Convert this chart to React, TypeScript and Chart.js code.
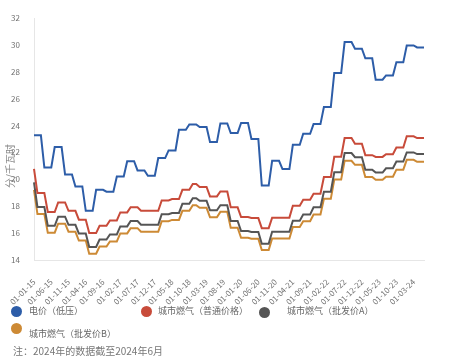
import React, { useEffect, useRef } from "react";
import { Chart, registerables } from "chart.js";

Chart.register(...registerables);

const MONTHS: string[] = [
  "01-01-15","01-02-15","01-03-15","01-04-15","01-05-15","01-06-15","01-07-15","01-08-15","01-09-15","01-10-15","01-11-15","01-12-15",
  "01-01-16","01-02-16","01-03-16","01-04-16","01-05-16","01-06-16","01-07-16","01-08-16","01-09-16","01-10-16","01-11-16","01-12-16",
  "01-01-17","01-02-17","01-03-17","01-04-17","01-05-17","01-06-17","01-07-17","01-08-17","01-09-17","01-10-17","01-11-17","01-12-17",
  "01-01-18","01-02-18","01-03-18","01-04-18","01-05-18","01-06-18","01-07-18","01-08-18","01-09-18","01-10-18","01-11-18","01-12-18",
  "01-01-19","01-02-19","01-03-19","01-04-19","01-05-19","01-06-19","01-07-19","01-08-19","01-09-19","01-10-19","01-11-19","01-12-19",
  "01-01-20","01-02-20","01-03-20","01-04-20","01-05-20","01-06-20","01-07-20","01-08-20","01-09-20","01-10-20","01-11-20","01-12-20",
  "01-01-21","01-02-21","01-03-21","01-04-21","01-05-21","01-06-21","01-07-21","01-08-21","01-09-21","01-10-21","01-11-21","01-12-21",
  "01-01-22","01-02-22","01-03-22","01-04-22","01-05-22","01-06-22","01-07-22","01-08-22","01-09-22","01-10-22","01-11-22","01-12-22",
  "01-01-23","01-02-23","01-03-23","01-04-23","01-05-23","01-06-23","01-07-23","01-08-23","01-09-23","01-10-23","01-11-23","01-12-23",
  "01-01-24","01-02-24","01-03-24","01-04-24","01-05-24","01-06-24",
];

const TICK_LABELS: string[] = [
  "01-01-15","01-06-15","01-11-15","01-04-16","01-09-16","01-02-17","01-07-17","01-12-17",
  "01-05-18","01-10-18","01-03-19","01-08-19","01-01-20","01-06-20","01-11-20","01-04-21",
  "01-09-21","01-02-22","01-07-22","01-12-22","01-05-23","01-10-23","01-03-24",
];

const ELECTRICITY: number[] = [
  23.27,23.27,23.27, 20.88,20.88,20.88, 22.4,22.4,22.4, 20.36,20.36,20.36,
  19.47,19.47,19.47, 17.66,17.66,17.66, 19.22,19.22,19.22, 19.08,19.08,19.08,
  20.21,20.21,20.21, 21.35,21.35,21.35, 20.66,20.66,20.66, 20.27,20.27,20.27,
  21.58,21.58,21.58, 22.15,22.15,22.15, 23.69,23.69,23.69, 24.08,24.08,24.08,
  23.89,23.89,23.89, 22.77,22.77,22.77, 24.16,24.16,24.16, 23.44,23.44,23.44,
  24.19,24.19,24.19, 23.0,23.0,23.0, 19.54,19.54,19.54, 21.38,21.38,21.38,
  20.76,20.76,20.76, 22.57,22.57,22.57, 23.39,23.39,23.39, 24.11,24.11,24.11,
  25.38,25.38,25.38, 27.91,27.91,27.91, 30.21,30.21,30.21, 29.72,29.72,29.72,
  29.0,29.0,29.0, 27.41,27.41,27.41, 27.73,27.73,27.73, 28.7,28.7,28.7,
  29.96,29.96,29.96, 29.81,29.81,29.81,
];

const GAS_REGULAR: number[] = [
  20.77, 18.98,18.98,18.98, 17.57,17.57,17.57, 18.28,18.28,18.28, 17.66,17.66,
  17.66, 17.0,17.0,17.0, 16.0,16.0,16.0, 16.55,16.55,16.55, 16.94,16.94,
  16.94, 17.54,17.54,17.54, 17.92,17.92,17.92, 17.66,17.66,17.66,17.66,17.66,
  17.66, 18.43,18.43,18.43, 18.53,18.53,18.53, 19.22,19.22,19.22, 19.65,19.65,
  19.43,19.43,19.43, 18.73,18.73,18.73, 19.1,19.1,19.1, 17.92,17.92,17.92,
  17.19,17.19,17.19, 17.12,17.12,17.12, 16.37,16.37,16.37, 17.15,17.15,17.15,
  17.15,17.15,17.15, 18.03,18.03,18.03, 18.48,18.48,18.48, 18.93,18.93,18.93,
  20.17,20.17,20.17, 21.68,21.68,21.68, 23.07,23.07,23.07, 22.65,22.65,22.65,
  21.8,21.8,21.8, 21.67,21.67,21.67, 21.87,21.87,21.87, 22.37,22.37,22.37,
  23.2,23.2,23.2, 23.07,23.07,23.07,
];

const GAS_WHOLESALE_A: number[] = [
  19.77, 17.94,17.94,17.94, 16.54,16.54,16.54, 17.22,17.22,17.22, 16.62,16.62,
  16.62, 15.97,15.97,15.97, 14.97,14.97,14.97, 15.52,15.52,15.52, 15.9,15.9,
  15.9, 16.5,16.5,16.5, 16.9,16.9,16.9, 16.62,16.62,16.62,16.62,16.62,
  16.62, 17.4,17.4,17.4, 17.5,17.5,17.5, 18.18,18.18,18.18, 18.6,18.6,
  18.4,18.4,18.4, 17.7,17.7,17.7, 18.07,18.07,18.07, 16.9,16.9,16.9,
  16.15,16.15,16.15, 16.08,16.08,16.08, 15.21,15.21,15.21, 16.1,16.1,16.1,
  16.1,16.1,16.1, 16.92,16.92,16.92, 17.38,17.38,17.38, 17.92,17.92,17.92,
  19.08,19.08,19.08, 20.53,20.53,20.53, 21.95,21.95,21.95, 21.65,21.65,21.65,
  20.72,20.72,20.72, 20.5,20.5,20.5, 20.82,20.82,20.82, 21.32,21.32,21.32,
  22.0,22.0,22.0, 21.88,21.88,21.88,
];

const GAS_WHOLESALE_B: number[] = [
  19.22, 17.42,17.42,17.42, 16.03,16.03,16.03, 16.7,16.7,16.7, 16.1,16.1,
  16.1, 15.45,15.45,15.45, 14.47,14.47,14.47, 15.0,15.0,15.0, 15.38,15.38,
  15.38, 15.98,15.98,15.98, 16.37,16.37,16.37, 16.1,16.1,16.1,16.1,16.1,
  16.1, 16.88,16.88,16.88, 16.98,16.98,16.98, 17.66,17.66,17.66, 18.08,18.08,
  17.88,17.88,17.88, 17.18,17.18,17.18, 17.58,17.58,17.58, 16.4,16.4,16.4,
  15.65,15.65,15.65, 15.58,15.58,15.58, 14.74,14.74,14.74, 15.6,15.6,15.6,
  15.6,15.6,15.6, 16.45,16.45,16.45, 16.88,16.88,16.88, 17.38,17.38,17.38,
  18.55,18.55,18.55, 19.98,19.98,19.98, 21.38,21.38,21.38, 21.08,21.08,21.08,
  20.18,20.18,20.18, 19.97,19.97,19.97, 20.2,20.2,20.2, 20.72,20.72,20.72,
  21.45,21.45,21.45, 21.3,21.3,21.3,
];

const SERIES_NAMES: string[] = [
  "电价（低压）",
  "城市燃气（普通价格）",
  "城市燃气（批发价A）",
  "城市燃气（批发价B）",
];
const COLORS: string[] = ["#2D5DA8", "#C84B3A", "#555555", "#CD8A35"];
const Y_TITLE = "分/千瓦时";
const NOTE = "注：2024年的数据截至2024年6月";
const FONT = '"Noto Sans CJK SC", "Noto Sans", sans-serif';

export default function App() {
  const ref = useRef<HTMLCanvasElement | null>(null);

  useEffect(() => {
    document.body.style.margin = "0";
    const canvas = ref.current;
    if (!canvas) return;
    const yTitlePlugin = {
      id: "yTitle",
      afterDraw(chart: any) {
        const ctx = chart.ctx;
        ctx.save();
        ctx.translate(10, 166);
        ctx.rotate(-Math.PI / 2);
        ctx.textAlign = "center";
        ctx.textBaseline = "middle";
        ctx.font = `10px ${FONT}`;
        ctx.fillStyle = "#888888";
        ctx.fillText(Y_TITLE, 0, 0);
        ctx.restore();
      },
    };
    const datasets = [ELECTRICITY, GAS_REGULAR, GAS_WHOLESALE_A, GAS_WHOLESALE_B].map((d, i) => ({
      label: SERIES_NAMES[i],
      data: d,
      borderColor: COLORS[i],
      backgroundColor: COLORS[i],
      borderWidth: 2,
      pointRadius: 0,
      tension: 0,
      fill: false,
    }));
    const chart = new Chart(canvas, {
      type: "line",
      data: { labels: MONTHS, datasets },
      options: {
        animation: false,
        responsive: false,
        layout: { padding: { top: 18, right: 25, left: 0, bottom: 0 } },
        plugins: { legend: { display: false }, tooltip: { enabled: false } },
        scales: {
          x: {
            type: "category",
            grid: { display: false },
            border: { display: true, color: "#E6E6E6" },
            afterFit: (scale: any) => { scale.height = 103; },
            ticks: {
              autoSkip: false,
              minRotation: 45,
              maxRotation: 45,
              padding: 9,
              color: "#707070",
              font: { size: 8, family: FONT },
              callback: (_v: any, idx: number) =>
                TICK_LABELS.includes(MONTHS[idx]) ? MONTHS[idx] : "",
            },
          },
          y: {
            min: 14,
            max: 32,
            grid: { display: false },
            border: { display: true, color: "#E6E6E6" },
            afterFit: (scale: any) => { scale.width = 34; },
            ticks: {
              stepSize: 2,
              padding: 6,
              color: "#707070",
              font: { size: 8, family: FONT },
            },
          },
        },
      },
      plugins: [yTitlePlugin],
    });
    return () => chart.destroy();
  }, []);

  const legendItem = (i: number, cx: number, cy: number, tx: number, ty: number) => (
    <React.Fragment key={i}>
      <div
        style={{
          position: "absolute",
          left: cx - 5.5,
          top: cy - 5.5,
          width: 11,
          height: 11,
          borderRadius: "50%",
          background: COLORS[i],
        }}
      />
      <div
        style={{
          position: "absolute",
          left: tx,
          top: ty - 7,
          height: 14,
          lineHeight: "14px",
          fontSize: 9,
          color: "#666666",
          whiteSpace: "nowrap",
        }}
      >
        {SERIES_NAMES[i]}
      </div>
    </React.Fragment>
  );

  return (
    <div
      style={{
        position: "absolute",
        left: 0,
        top: 0,
        width: 449,
        height: 363,
        fontFamily: FONT,
        background: "#ffffff",
      }}
    >
      <canvas ref={ref} width={449} height={363} style={{ position: "absolute", left: 0, top: 0 }} />
      {legendItem(0, 16.7, 311.7, 29, 311)}
      {legendItem(1, 146.7, 311.7, 158, 311)}
      {legendItem(2, 264, 312, 287, 311)}
      {legendItem(3, 16.7, 328.3, 29, 333.5)}
      <div
        style={{
          position: "absolute",
          left: 13,
          top: 343.5,
          height: 14,
          lineHeight: "14px",
          fontSize: 10,
          color: "#777777",
          whiteSpace: "nowrap",
        }}
      >
        {NOTE}
      </div>
    </div>
  );
}
